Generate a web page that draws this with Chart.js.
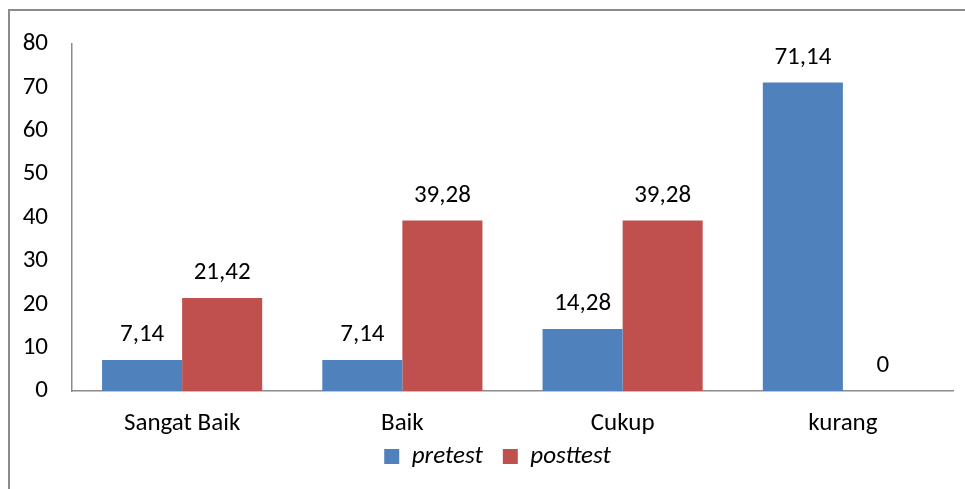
<!DOCTYPE html>
<html>
<head>
<meta charset="utf-8">
<script src="https://cdn.jsdelivr.net/npm/chart.js@4/dist/chart.umd.min.js"></script>
<style>
  html, body { margin: 0; padding: 0; background: #fff; }
  #wrap { width: 965px; height: 489px; position: relative; }
</style>
</head>
<body>
<div id="wrap"><canvas id="c"></canvas></div>
<script>
const categories = ['Sangat Baik', 'Baik', 'Cukup', 'kurang'];
const pretest = [7.14, 7.14, 14.28, 71.14];
const posttest = [21.42, 39.28, 39.28, 0];
const seriesNames = ['pretest', 'posttest'];

const FONT = 'Carlito, Lato, "Open Sans", sans-serif';
const FS = 25;
const AXIS = '#8c8c8c';

// Outer frame around the chart
const framePlugin = {
  id: 'frame',
  beforeDraw(chart) {
    const ctx = chart.ctx;
    ctx.save();
    ctx.fillStyle = '#fff';
    ctx.fillRect(0, 0, chart.width, chart.height);
    ctx.strokeStyle = '#8c8c8c';
    ctx.lineWidth = 2;
    ctx.strokeRect(9, 10, chart.width + 20, chart.height + 20);
    ctx.restore();
  }
};

// Nudge the legend so it sits just under the category labels, below the plot area
const legendShift = {
  id: 'legendShift',
  afterLayout(chart) {
    const lg = chart.legend;
    if (lg) {
      lg.left += 21;
      lg.right += 21;
      lg.top -= 10;
      lg.bottom -= 10;
    }
  }
};

// Value labels above each bar, decimal comma
const valueLabels = {
  id: 'valueLabels',
  afterDatasetsDraw(chart) {
    const ctx = chart.ctx;
    ctx.save();
    ctx.font = FS + 'px ' + FONT;
    ctx.fillStyle = '#000';
    ctx.textAlign = 'center';
    ctx.textBaseline = 'middle';
    chart.data.datasets.forEach((ds, i) => {
      chart.getDatasetMeta(i).data.forEach((el, j) => {
        const txt = String(ds.data[j]).replace('.', ',');
        ctx.fillText(txt, el.x, el.y - 25);
      });
    });
    ctx.restore();
  }
};

new Chart(document.getElementById('c'), {
  type: 'bar',
  data: {
    labels: categories,
    datasets: [
      { label: seriesNames[0], data: pretest, backgroundColor: '#4F81BD' },
      { label: seriesNames[1], data: posttest, backgroundColor: '#C0504D' }
    ]
  },
  options: {
    responsive: true,
    maintainAspectRatio: false,
    animation: false,
    layout: { padding: { top: 44, right: 12, left: 0, bottom: 0 } },
    datasets: { bar: { categoryPercentage: 0.727, barPercentage: 1.0 } },
    plugins: {
      legend: {
        position: 'bottom',
        labels: {
          color: '#000',
          font: { family: FONT, size: FS, style: 'italic' },
          boxWidth: 15,
          boxHeight: 15,
          padding: 20
        }
      },
      tooltip: { enabled: false }
    },
    scales: {
      x: {
        grid: { display: false, drawTicks: false },
        border: { color: AXIS, width: 1.5 },
        ticks: { color: '#000', font: { family: FONT, size: FS }, padding: 18 },
        afterFit(s) { s.height = 43; }
      },
      y: {
        min: 0, max: 80,
        grid: { display: false, drawTicks: false },
        border: { color: AXIS, width: 1.5 },
        ticks: { stepSize: 10, color: '#000', font: { family: FONT, size: FS }, padding: 24 },
        afterFit(s) { s.width = 72; }
      }
    }
  },
  plugins: [framePlugin, legendShift, valueLabels]
});
</script>
</body>
</html>
